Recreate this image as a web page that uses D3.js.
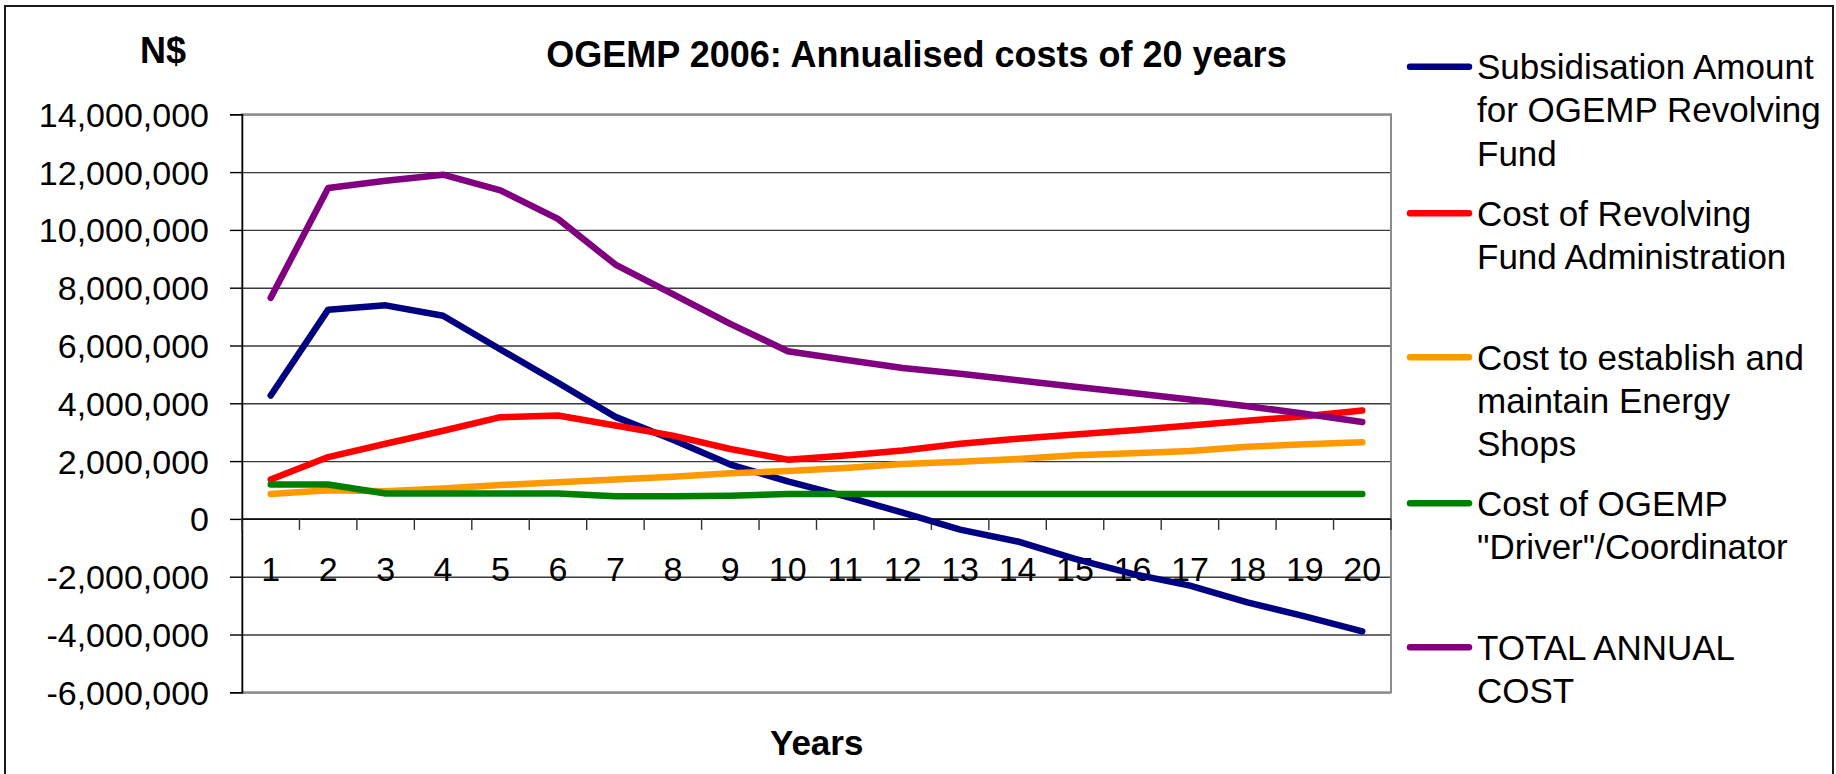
<!DOCTYPE html>
<html>
<head>
<meta charset="utf-8">
<script src="https://cdn.jsdelivr.net/npm/d3@7/dist/d3.min.js"></script>
<style>
  html, body { margin: 0; padding: 0; background: #fff; }
  svg { display: block; font-family: "Liberation Sans", Arial, sans-serif; }
</style>
</head>
<body>
<svg id="chart" width="1836" height="774"></svg>
<script>
// ---- data ----
const years = ["1","2","3","4","5","6","7","8","9","10","11","12","13","14","15","16","17","18","19","20"];
const subsidisation = [4270000, 7240000, 7390000, 7030000, 5860000, 4710000, 3530000, 2740000, 1880000, 1300000, 780000, 220000, -370000, -780000, -1380000, -1900000, -2310000, -2890000, -3370000, -3890000];
const revolvingAdmin = [1360000, 2140000, 2600000, 3050000, 3520000, 3580000, 3230000, 2880000, 2420000, 2050000, 2190000, 2370000, 2600000, 2770000, 2920000, 3070000, 3230000, 3400000, 3550000, 3750000];
const energyShops = [860000, 990000, 960000, 1050000, 1170000, 1270000, 1360000, 1460000, 1580000, 1660000, 1760000, 1900000, 1980000, 2070000, 2200000, 2270000, 2350000, 2500000, 2580000, 2650000];
const coordinator = [1190000, 1190000, 880000, 880000, 880000, 880000, 780000, 780000, 800000, 860000, 860000, 860000, 860000, 860000, 860000, 860000, 860000, 860000, 860000, 860000];
const totalCost = [7650000, 11450000, 11700000, 11910000, 11370000, 10380000, 8800000, 7780000, 6750000, 5800000, 5510000, 5220000, 5020000, 4800000, 4570000, 4360000, 4130000, 3900000, 3640000, 3350000];
const yTicks = [-6000000, -4000000, -2000000, 0, 2000000, 4000000, 6000000, 8000000, 10000000, 12000000, 14000000];
const seriesNames = [
  ["Subsidisation Amount", "for OGEMP Revolving", "Fund"],
  ["Cost of Revolving", "Fund Administration"],
  ["Cost to establish and", "maintain Energy", "Shops"],
  ["Cost of OGEMP", "\"Driver\"/Coordinator"],
  ["TOTAL ANNUAL", "COST"]
];
const seriesColors = ["#000080", "#FF0000", "#FF9900", "#008000", "#800080"];
const titleText = "OGEMP 2006: Annualised costs of 20 years";
const yAxisTitle = "N$";
const xAxisTitle = "Years";

const series = [subsidisation, revolvingAdmin, energyShops, coordinator, totalCost];

// ---- layout ----
const W = 1836, H = 774;
const plot = { left: 242, right: 1391, top: 114.3, bottom: 692.3 };
const svg = d3.select("#chart");

const x = d3.scaleBand().domain(years).range([plot.left, plot.right]);
const y = d3.scaleLinear().domain([-6000000, 14000000]).range([plot.bottom, plot.top]);
const fmt = d3.formatLocale({ decimal: ".", thousands: ",", grouping: [3], currency: ["", ""], minus: "-" }).format(",");

// outer border
svg.append("rect").attr("x", 5).attr("y", 6).attr("width", 1828).attr("height", 800)
  .attr("fill", "#fff").attr("stroke", "#1a1a1a").attr("stroke-width", 2);

// gridlines
const grid = svg.append("g").attr("transform", `translate(${plot.left},0)`)
  .call(d3.axisLeft(y).tickValues(yTicks).tickSize(-(plot.right - plot.left)).tickFormat(""));
grid.select(".domain").remove();
grid.selectAll(".tick line").attr("stroke", "#3a3a3a").attr("stroke-width", 1.4);

// plot area border (top/right/bottom grey)
svg.append("rect").attr("x", plot.left).attr("y", plot.top)
  .attr("width", plot.right - plot.left).attr("height", plot.bottom - plot.top)
  .attr("fill", "none").attr("stroke", "#8c8c8c").attr("stroke-width", 2);

// y axis
const yAxis = svg.append("g").attr("transform", `translate(${plot.left},0)`)
  .call(d3.axisLeft(y).tickValues(yTicks).tickSize(12).tickPadding(21).tickFormat(fmt));
yAxis.select(".domain").attr("stroke", "#000").attr("stroke-width", 1.5);
yAxis.selectAll(".tick line").attr("stroke", "#000").attr("stroke-width", 1.4);
yAxis.selectAll(".tick text").attr("font-size", 34).attr("fill", "#000")
  .attr("font-family", "'Liberation Sans', Arial, sans-serif").attr("dy", "0.35em");

// x axis at zero
const y0 = y(0);
svg.append("line").attr("x1", plot.left).attr("x2", plot.right).attr("y1", y0).attr("y2", y0)
  .attr("stroke", "#000").attr("stroke-width", 1.5);
const edges = years.map(d => x(d)).concat([x(years[years.length - 1]) + x.bandwidth()]);
svg.append("g").selectAll("line").data(edges).join("line")
  .attr("x1", d => d).attr("x2", d => d).attr("y1", y0).attr("y2", y0 + 11)
  .attr("stroke", "#333").attr("stroke-width", 1.4);
svg.append("g").selectAll("text").data(years).join("text")
  .attr("x", d => x(d) + x.bandwidth() / 2).attr("y", y0 + 62)
  .attr("text-anchor", "middle").attr("font-size", 34).attr("fill", "#000").text(d => d);

// lines
const line = d3.line()
  .x((d, i) => x(years[i]) + x.bandwidth() / 2)
  .y(d => y(d));
svg.append("g").selectAll("path").data(series).join("path")
  .attr("d", d => line(d))
  .attr("fill", "none")
  .attr("stroke", (d, i) => seriesColors[i])
  .attr("stroke-width", 6.5)
  .attr("stroke-linecap", "round")
  .attr("stroke-linejoin", "round");

// titles
svg.append("text").attr("x", 916.5).attr("y", 66.7).attr("text-anchor", "middle")
  .attr("font-size", 36).attr("font-weight", "bold").text(titleText);
svg.append("text").attr("x", 163).attr("y", 62.7).attr("text-anchor", "middle")
  .attr("font-size", 36).attr("font-weight", "bold").text(yAxisTitle);
svg.append("text").attr("x", 816.7).attr("y", 755).attr("text-anchor", "middle")
  .attr("font-size", 35).attr("font-weight", "bold").text(xAxisTitle);

// legend
const legendTop = [66.7, 213.3, 357.3, 503.3, 647.3];
const lg = svg.append("g");
const entries = lg.selectAll("g").data(seriesNames).join("g")
  .attr("transform", (d, i) => `translate(0,${legendTop[i]})`);
entries.append("line").attr("x1", 1410).attr("x2", 1469).attr("y1", 0).attr("y2", 0)
  .attr("stroke", (d, i) => seriesColors[i]).attr("stroke-width", 6.5).attr("stroke-linecap", "round");
entries.append("text").attr("font-size", 35).attr("fill", "#000")
  .selectAll("tspan").data(d => d).join("tspan")
  .attr("x", 1477).attr("y", (d, j) => 12.3 + j * 43.3).text(d => d);
</script>
</body>
</html>
